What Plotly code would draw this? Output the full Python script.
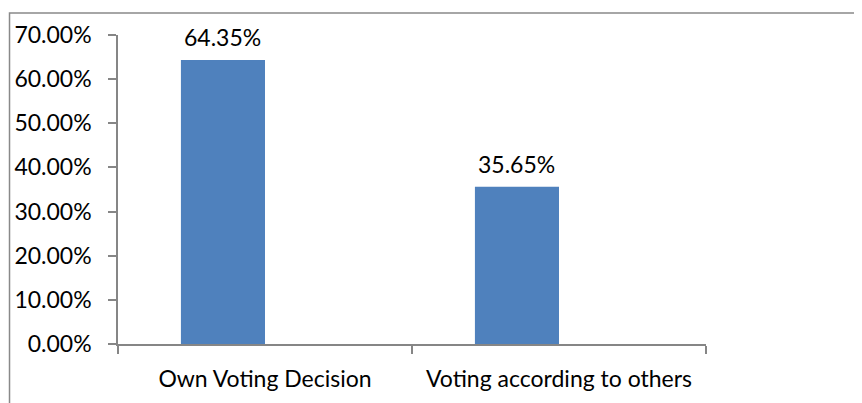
import plotly.graph_objects as go

categories = ["Own Voting Decision", "Voting according to others"]
values = [0.6435, 0.3565]
value_labels = ["64.35%", "35.65%"]
y_ticks = [0, 0.1, 0.2, 0.3, 0.4, 0.5, 0.6, 0.7]

FONT = "Lato"
FS = 23
AXIS = "#868686"
BAR_W = 0.286

fig = go.Figure()
fig.add_trace(go.Bar(x=categories, y=values, width=BAR_W, offset=-BAR_W,
                     marker=dict(color="#4F81BD", line=dict(width=0)), hoverinfo="skip"))

for i, (v, t) in enumerate(zip(values, value_labels)):
    fig.add_annotation(x=i - BAR_W / 2, y=v, text=t, showarrow=False, yshift=23,
                       font=dict(family=FONT, size=FS, color="#000000"))

fig.add_shape(type="rect", xref="paper", yref="paper", x0=-0.1845, x1=2, y0=-1, y1=1.071,
              line=dict(color="#898989", width=1.5), fillcolor="rgba(0,0,0,0)", layer="above")

fig.update_layout(
    width=854, height=395,
    margin=dict(l=110, r=156, t=27, b=58.5),
    paper_bgcolor="white", plot_bgcolor="white",
    showlegend=False,
    font=dict(family=FONT, size=FS, color="#000000"),
)
fig.update_xaxes(showline=True, linecolor=AXIS, linewidth=1.5, ticks="outside", tickson="boundaries",
                 ticklen=8, tickcolor=AXIS, tickwidth=1.5, ticklabelstandoff=14, automargin=False,
                 range=[-0.5, 1.5],
                 showgrid=False, zeroline=False, tickfont=dict(family=FONT, size=FS))
fig.update_yaxes(range=[0, 0.7], tickvals=y_ticks, tickformat=".2%", showline=True, linecolor=AXIS,
                 linewidth=1.5, ticks="outside", ticklen=8, tickcolor=AXIS, tickwidth=1.5,
                 ticklabelstandoff=12, showgrid=False, zeroline=False, automargin=False,
                 tickfont=dict(family=FONT, size=FS))

fig.write_html("out.html")
